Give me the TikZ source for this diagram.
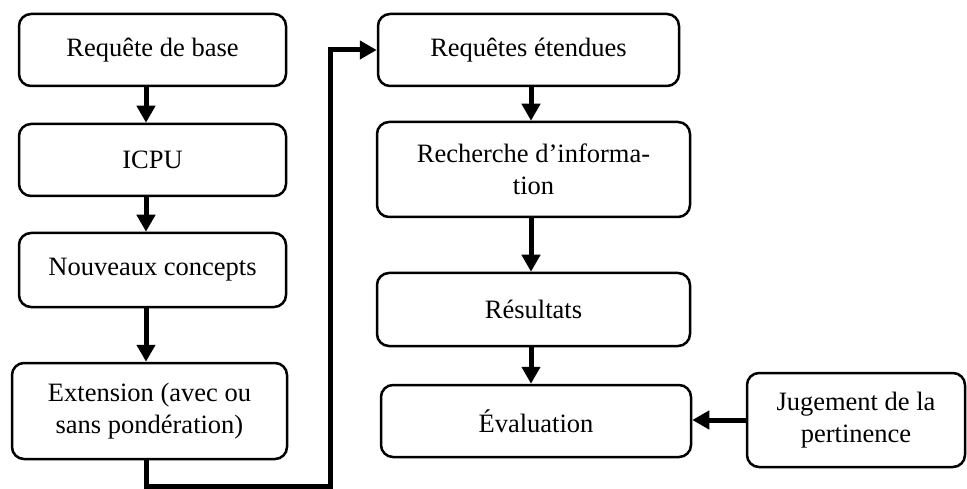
\documentclass[tikz,border=0pt]{standalone}
\usepackage{fontspec}
\setmainfont{Liberation Serif}
\usetikzlibrary{arrows.meta}
\begin{document}
\begin{tikzpicture}[x=1pt,y=-1pt,
  box/.style={draw, line width=2.5pt, rounded corners=12pt, align=center,
    inner sep=0pt, font=\fontsize{26.5}{32}\selectfont},
  flow/.style={line width=5pt, -{Triangle[length=17pt,width=18pt]}}]
\useasboundingbox (0,0) rectangle (967,489);

% left column
\node[box, minimum width=267pt, minimum height=72pt] (req)  at (152.5,50)  {Requête de base};
\node[box, minimum width=267pt, minimum height=72pt] (icpu) at (152.5,160) {ICPU};
\node[box, minimum width=267pt, minimum height=74pt] (nouv) at (152.5,270) {Nouveaux concepts};
\node[box, minimum width=275pt, minimum height=96pt] (ext)  at (149.5,411) {Extension (avec ou\\sans pondération)};

% right column
\node[box, minimum width=301pt, minimum height=72pt] (etend) at (528.5,50)  {Requêtes étendues};
\node[box, minimum width=313pt, minimum height=95pt] (rech)  at (533.5,169.5) {Recherche d’informa-\\tion};
\node[box, minimum width=313pt, minimum height=73pt] (res)   at (533.5,309.5) {Résultats};
\node[box, minimum width=310pt, minimum height=72pt] (eval)  at (536,421)   {Évaluation};
\node[box, minimum width=218pt, minimum height=94pt] (jug)   at (856,420)   {Jugement de la\\pertinence};

% routing points
\coordinate (lowL) at (146,486);
\coordinate (lowR) at (330,486);
\coordinate (upR)  at (330,50);
\coordinate (colR) at (531,0);

% connectors
\draw[flow] (req.south -| lowL)  -- (icpu.north -| lowL);
\draw[flow] (icpu.south -| lowL) -- (nouv.north -| lowL);
\draw[flow] (nouv.south -| lowL) -- (ext.north -| lowL);
\draw[flow] (ext.south -| lowL) -- (lowL) -- (lowR) -- (upR) -- (etend.west);
\draw[flow] (etend.south -| colR) -- (rech.north -| colR);
\draw[flow] (rech.south -| colR)  -- (res.north -| colR);
\draw[flow] (res.south -| colR)   -- (eval.north -| colR);
\draw[flow] (jug.west) -- (eval.east |- jug.west);
\end{tikzpicture}
\end{document}
